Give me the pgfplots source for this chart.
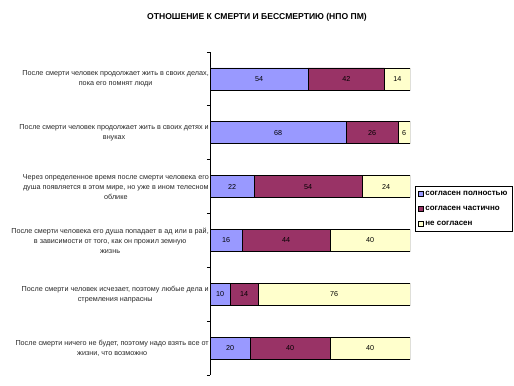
\documentclass[border=0pt]{standalone}
\usepackage{pgfplots}
\pgfplotsset{compat=1.18}
\usepackage{pgfplotstable}
\usepackage{fontspec}
\setmainfont{Liberation Sans}
\definecolor{cA}{HTML}{9999FF}
\definecolor{cB}{HTML}{993366}
\definecolor{cC}{HTML}{FFFFCC}

% shares of each answer (row 1 raw values 54/42/14 normalised to 100)
\pgfplotstableread{
y a b c
1 49.091 38.182 12.727
2 68 26 6
3 22 54 24
4 16 44 40
5 10 14 76
6 20 40 40
}\shares

% printed values, placed at the middle of each segment
\pgfplotstableread{
y x v
1 24.545 54
1 68.182 42
1 93.636 14
2 34 68
2 81 26
2 97 6
3 11 22
3 49 54
3 88 24
4 8 16
4 38 44
4 80 40
5 5 10
5 17 14
5 62 76
6 10 20
6 40 40
6 80 40
}\labels

\begin{document}
\begin{tikzpicture}
\useasboundingbox (0,0) rectangle (514bp,386bp);
\node[font=\bfseries\fontsize{8.6}{10}\selectfont] at (257bp,369bp) {ОТНОШЕНИЕ К СМЕРТИ И БЕССМЕРТИЮ (НПО ПМ)};
\pgfplotsset{
  common/.style={scale only axis, width=200bp, height=323bp,
    at={(210bp,11bp)}, anchor=south west,
    xmin=0, xmax=100, ymin=0.5, ymax=6.5, y dir=reverse},
  mybar/.style={fill=#1, draw=black, line width=0.8pt,
    legend image code/.code={\draw[fill=#1, draw=black, line width=0.6pt] (0bp,-2.5bp) rectangle (5bp,2.5bp);}}
}
\begin{axis}[common,
  xbar stacked, bar width=22bp,
  axis x line=none, axis y line*=left,
  axis line style={-, line width=0.8pt},
  ytick={1,...,6},
  yticklabels={
    {После смерти человек продолжает жить в своих делах,\\пока его помнят люди},
    {После смерти человек продолжает жить в своих детях и\\внуках},
    {Через определенное время после смерти человека его\\душа появляется в этом мире, но уже в ином телесном\\облике},
    {После смерти человека его душа попадает в ад или в рай,\\в зависимости от того, как он прожил земную\\жизнь},
    {После смерти человек исчезает, поэтому любые дела и\\стремления напрасны},
    {После смерти ничего не будет, поэтому надо взять все от\\жизни, что возможно}},
  yticklabel style={align=center, font=\fontsize{7.25}{10}\selectfont, text=black!85, inner sep=1bp},
  tick align=outside,
  major tick length=0pt,
  extra y ticks={0.5,1.5,...,6.5},
  extra y tick labels={},
  extra y tick style={major tick length=3bp, tick style={black, line width=0.8pt}},
  legend style={at={(1.025,0.585)}, anchor=north west, draw=black, line width=0.6pt,
    font=\bfseries\fontsize{8}{9}\selectfont, cells={anchor=west},
    inner sep=2.5bp, row sep=5.5bp},
]
\addplot[mybar=cA] table[x=a, y=y] {\shares};
\addlegendentry{согласен полностью}
\addplot[mybar=cB] table[x=b, y=y] {\shares};
\addlegendentry{согласен частично}
\addplot[mybar=cC] table[x=c, y=y] {\shares};
\addlegendentry{не согласен}
\end{axis}
\begin{axis}[common, hide axis]
\addplot[draw=none, mark=none, nodes near coords, point meta=explicit symbolic,
  nodes near coords style={anchor=center, font=\fontsize{7.2}{8}\selectfont, text=black, inner sep=0pt}]
  table[x=x, y=y, meta=v] {\labels};
\end{axis}
\end{tikzpicture}
\end{document}
